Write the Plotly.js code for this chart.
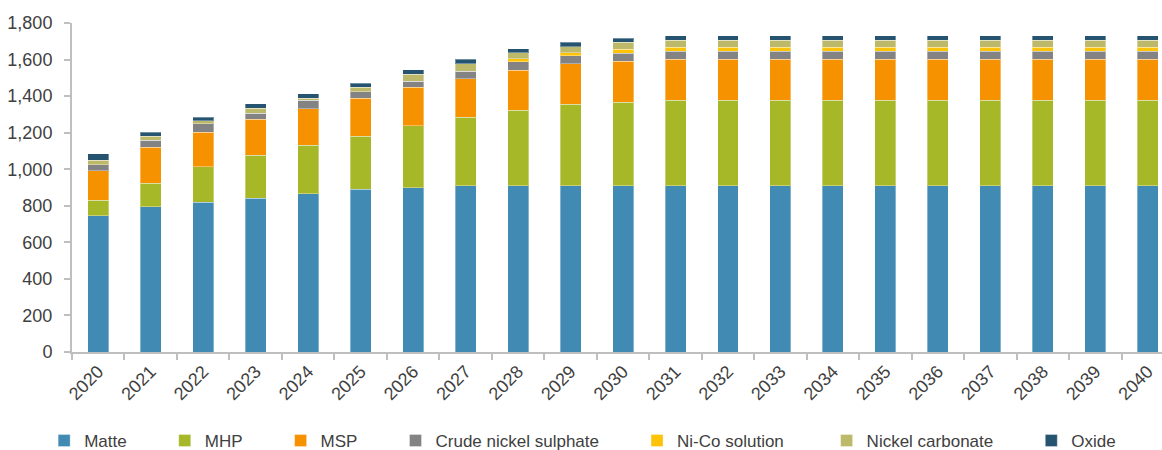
<!DOCTYPE html>
<html>
<head>
<meta charset="utf-8">
<script src="https://cdn.plot.ly/plotly-3.0.1.min.js"></script>
<style>html,body{margin:0;padding:0;background:#fff;}#chart{width:1162px;height:450px;}</style>
</head>
<body>
<div id="chart"></div>
<script>
const years = ["2020","2021","2022","2023","2024","2025","2026","2027","2028","2029","2030",
  "2031","2032","2033","2034","2035","2036","2037","2038","2039","2040"];
const matte = [745,795,818,840,865,890,900,910,910,910,910,910,910,910,910,910,910,910,910,910,910];
const mhp = [85,128,196,236,267,290,338,374,412,445,456,467,467,467,467,467,467,467,467,467,467];
const msp = [162,198,189,197,200,209,210,211,219,222,224,224,224,224,224,224,224,224,224,224,224];
const crudeSulphate = [32,37,46,34,45,35,34,42,47,44,44,44,44,44,44,44,44,44,44,44,44];
const niCoSolution = [0,0,0,0,0,0,0,0,16,15,23,23,23,23,23,23,23,23,23,23,23];
const nickelCarbonate = [25,23,15,26,12,24,37,40,32,34,37,37,37,37,37,37,37,37,37,37,37];
const oxide = [35,22,21,24,24,23,24,24,23,24,22,24,24,24,24,24,24,24,24,24,24];

const seriesNames = ["Matte","MHP","MSP","Crude nickel sulphate","Ni-Co solution","Nickel carbonate","Oxide"];
const seriesValues = [matte, mhp, msp, crudeSulphate, niCoSolution, nickelCarbonate, oxide];
const colors = ["#418AB3","#A6B727","#F69200","#838383","#FEC306","#BDB96A","#255370"];
const legendPad = [7, 7, 7, 7, 8, 7, 0];

const FONT = "'Liberation Sans', Arial, sans-serif";

const traces = seriesNames.map((name, i) => ({
  type: "bar",
  name: name + "\u00a0".repeat(legendPad[i]),
  x: years,
  y: seriesValues[i],
  marker: {color: colors[i], line: {color: "rgba(255,255,255,0.35)", width: 1}},
  hovertemplate: "%{x}: %{y}<extra>" + name + "</extra>"
}));

const layout = {
  width: 1162, height: 450,
  barmode: "stack",
  bargap: 0.6,
  margin: {l: 72, r: 0, t: 23, b: 98},
  paper_bgcolor: "#fff", plot_bgcolor: "#fff",
  font: {family: FONT, size: 18, color: "#404040"},
  xaxis: {
    type: "category",
    range: [-0.5, 20.27],
    automargin: false,
    showline: true, linecolor: "#BFBFBF", linewidth: 2,
    ticks: "outside", tickson: "boundaries", ticklen: 6, tickcolor: "#BFBFBF", tickwidth: 2,
    tickangle: -45,
    showgrid: false, zeroline: false,
    tickfont: {family: FONT, size: 18, color: "#404040"}
  },
  yaxis: {
    range: [0, 1800],
    automargin: false,
    tickvals: [0,200,400,600,800,1000,1200,1400,1600,1800],
    tickformat: ",d",
    showline: true, linecolor: "#BFBFBF", linewidth: 2,
    ticks: "outside", ticklen: 6, tickcolor: "#BFBFBF", tickwidth: 2,
    ticklabelstandoff: 8,
    showgrid: false, zeroline: false,
    tickfont: {family: FONT, size: 18, color: "#404040"}
  },
  legend: {
    orientation: "h",
    xref: "container", yref: "container",
    x: 0.038, xanchor: "left",
    y: 0.02, yanchor: "middle",
    font: {family: FONT, size: 17, color: "#404040"},
    traceorder: "normal",
    bgcolor: "rgba(0,0,0,0)"
  },
  showlegend: true
};

Plotly.newPlot("chart", traces, layout, {displayModeBar: false});
</script>
</body>
</html>
